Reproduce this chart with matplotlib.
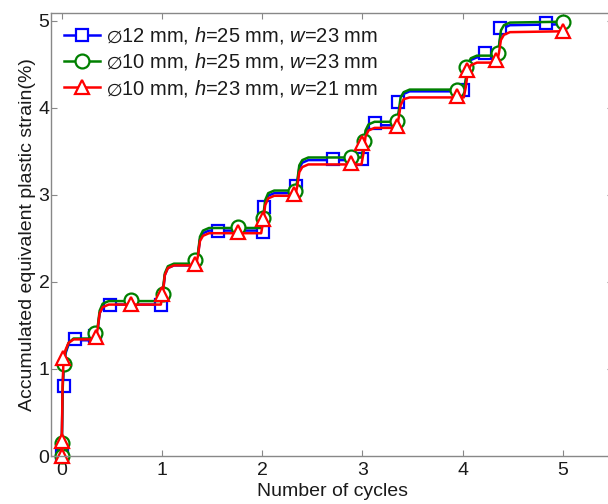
import matplotlib
matplotlib.use("Agg")
import matplotlib.pyplot as plt

plt.rcParams['font.family'] = ['Liberation Sans', 'DejaVu Sans']
plt.rcParams['mathtext.fontset'] = 'custom'
plt.rcParams['mathtext.rm'] = 'Liberation Sans'
plt.rcParams['mathtext.it'] = 'Liberation Sans:italic'
plt.rcParams['font.size'] = 14

# curve knots (shared x for the three smooth step curves)
x_curve = [0.00, 0.005, 0.01, 0.02, 0.04, 0.07, 0.12,
           0.34, 0.36, 0.38, 0.41, 0.47,
           0.99, 1.01, 1.03, 1.06, 1.12,
           1.34, 1.36, 1.38, 1.41, 1.47,
           1.99, 2.01, 2.03, 2.06, 2.12,
           2.33, 2.35, 2.37, 2.40, 2.46,
           2.99, 3.01, 3.03, 3.06, 3.12,
           3.34, 3.36, 3.38, 3.41, 3.47,
           4.01, 4.03, 4.05, 4.08, 4.14,
           4.34, 4.36, 4.38, 4.41, 4.47,
           5.00]

y_blue = [0.00, 0.30, 0.70, 1.00, 1.18, 1.28, 1.33,
          1.33, 1.45, 1.64, 1.71, 1.74,
          1.74, 1.87, 2.08, 2.16, 2.19,
          2.19, 2.31, 2.49, 2.56, 2.59,
          2.59, 2.72, 2.91, 2.99, 3.02,
          3.02, 3.13, 3.31, 3.37, 3.40,
          3.40, 3.52, 3.70, 3.77, 3.80,
          3.80, 3.92, 4.09, 4.16, 4.19,
          4.19, 4.31, 4.48, 4.55, 4.58,
          4.58, 4.69, 4.86, 4.92, 4.95,
          4.96]

y_green = [0.00, 0.30, 0.72, 1.02, 1.20, 1.30, 1.35,
           1.35, 1.48, 1.67, 1.75, 1.78,
           1.78, 1.91, 2.10, 2.18, 2.21,
           2.21, 2.33, 2.52, 2.59, 2.62,
           2.62, 2.75, 2.94, 3.02, 3.05,
           3.05, 3.16, 3.34, 3.40, 3.43,
           3.43, 3.55, 3.74, 3.81, 3.84,
           3.84, 3.95, 4.12, 4.18, 4.21,
           4.21, 4.33, 4.50, 4.57, 4.60,
           4.60, 4.71, 4.89, 4.95, 4.98,
           4.99]

y_red = [0.00, 0.35, 0.80, 1.10, 1.22, 1.30, 1.34,
         1.34, 1.46, 1.64, 1.71, 1.74,
         1.74, 1.87, 2.08, 2.16, 2.19,
         2.19, 2.30, 2.47, 2.53, 2.56,
         2.56, 2.69, 2.88, 2.96, 2.99,
         2.99, 3.10, 3.26, 3.32, 3.35,
         3.35, 3.48, 3.67, 3.74, 3.77,
         3.77, 3.88, 4.03, 4.10, 4.12,
         4.12, 4.24, 4.42, 4.49, 4.52,
         4.52, 4.63, 4.78, 4.84, 4.87,
         4.88]

# marker samples
xm_blue = [0.00, 0.02, 0.13, 0.33, 0.48, 0.99, 1.56, 2.01, 2.02, 2.34,
           2.71, 3.00, 3.12, 3.35, 4.00, 4.22, 4.37, 4.83]
ym_blue = [0.00, 0.81, 1.34, 1.38, 1.73, 1.73, 2.59, 2.57, 2.86, 3.10,
           3.41, 3.41, 3.83, 4.07, 4.21, 4.63, 4.92, 4.97]

xm_green = [0.00, 0.00, 0.02, 0.33, 0.69, 1.01, 1.33, 1.76, 2.01, 2.33,
            2.89, 3.02, 3.34, 3.94, 4.03, 4.35, 5.00]
ym_green = [0.00, 0.15, 1.06, 1.41, 1.79, 1.86, 2.25, 2.63, 2.74, 3.05,
            3.43, 3.62, 3.85, 4.21, 4.47, 4.63, 4.99]

xm_red = [0.00, 0.00, 0.01, 0.34, 0.69, 1.00, 1.33, 1.76, 2.01, 2.32,
          2.89, 3.00, 3.34, 3.94, 4.04, 4.33, 5.00]
ym_red = [0.00, 0.17, 1.13, 1.37, 1.75, 1.86, 2.21, 2.57, 2.72, 3.01,
          3.37, 3.60, 3.79, 4.14, 4.44, 4.55, 4.88]

labels = [r'$\varnothing$12 mm, $h$=25 mm, $w$=23 mm',
          r'$\varnothing$10 mm, $h$=25 mm, $w$=23 mm',
          r'$\varnothing$10 mm, $h$=23 mm, $w$=21 mm']

fig = plt.figure(figsize=(6.08, 5.04), dpi=100)
ax = fig.add_axes([0.0847, 0.0952, 0.924, 0.879])

series = [
    (x_curve, y_blue, xm_blue, ym_blue, 'b', 's', 9),
    (x_curve, y_green, xm_green, ym_green, '#008000', 'o', 10),
    (x_curve, y_red, xm_red, ym_red, 'r', '^', 10),
]
handles = []
for (xc, yc, xm, ym, c, mk, ms), lab in zip(series, labels):
    ax.plot(xc, yc, color=c, lw=1.8, clip_on=False)
    ax.plot(xm, ym, ls='none', marker=mk, ms=ms, mfc='white', mec=c, mew=1.6,
            clip_on=False)
    h, = ax.plot([], [], color=c, lw=1.8, marker=mk, ms=ms, mfc='white',
                 mec=c, mew=1.6, label=lab)
    handles.append(h)

ax.set_xlim(-0.1, 5.5)
ax.set_ylim(0, 5.09)
ax.set_xticks([0, 1, 2, 3, 4, 5])
ax.set_yticks([0, 1, 2, 3, 4, 5])
ax.tick_params(direction='in', top=True, right=True, length=4, width=0.8,
               color='#888888', labelcolor='#1a1a1a', labelsize=14)
ax.tick_params(axis='x', pad=4.5)
ax.tick_params(axis='y', pad=1.5)
for s in ax.spines.values():
    s.set_color('#888888')
    s.set_linewidth(1.0)

ax.set_xlabel('Number of cycles', fontsize=14, color='#1a1a1a', labelpad=3)
ax.set_ylabel('Accumulated equivalent plastic strain(%)', fontsize=14,
              color='#1a1a1a', labelpad=2)

leg = ax.legend(handles=handles, loc='upper left', frameon=False, fontsize=14.5,
                handlelength=1.8, handletextpad=0.3, labelspacing=0.26,
                borderaxespad=0.25, borderpad=0.35)
for t in leg.get_texts():
    t.set_color('#1a1a1a')

fig.savefig('out.png', dpi=100)
